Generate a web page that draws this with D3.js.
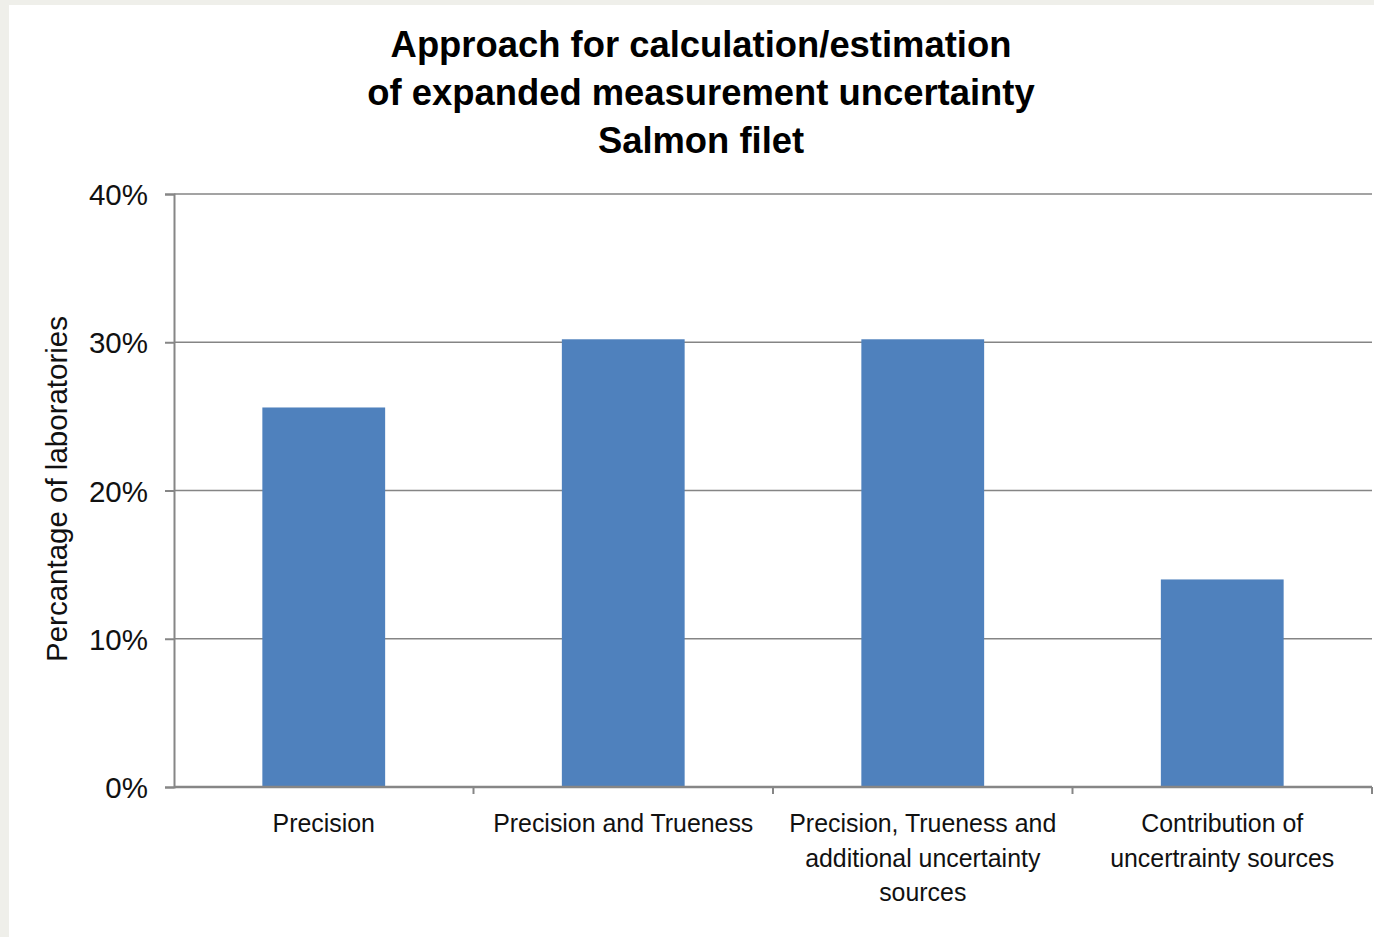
<!DOCTYPE html>
<html><head><meta charset="utf-8">
<script src="https://cdn.jsdelivr.net/npm/d3@7"></script>
<style>html,body{margin:0;padding:0;background:#efefea;}svg{display:block;}</style>
</head><body>
<svg id="chart" width="1374" height="937"></svg>
<script>
const titleLines = ["Approach for calculation/estimation", "of expanded measurement uncertainty", "Salmon filet"];
const categories = ["Precision", "Precision and Trueness", "Precision, Trueness and\nadditional uncertainty\nsources", "Contribution of\nuncertrainty sources"];
const values = [0.256, 0.302, 0.302, 0.140];
const yTicks = [0, 0.1, 0.2, 0.3, 0.4];
const yTitle = "Percantage of laboratories";

const svg = d3.select("#chart");
svg.append("rect").attr("x", 9).attr("y", 5).attr("width", 1365).attr("height", 932).attr("fill", "#fff");

const m = {left: 174, right: 1372, top: 194, bottom: 787};
const x = d3.scaleBand().domain(categories).range([m.left, m.right]).paddingInner(0.59).paddingOuter(0.295);
const xb = d3.scaleBand().domain(categories).range([m.left, m.right]);
const y = d3.scaleLinear().domain([0, 0.4]).range([m.bottom, m.top]);

// gridlines
svg.append("g").selectAll("line").data(yTicks.filter(d => d > 0)).join("line")
  .attr("x1", m.left).attr("x2", m.right)
  .attr("y1", d => y(d)).attr("y2", d => y(d))
  .attr("stroke", "#858585").attr("stroke-width", 1.6);

// bars
svg.append("g").selectAll("rect").data(values).join("rect")
  .attr("x", (d, i) => x(categories[i])).attr("width", x.bandwidth())
  .attr("y", d => y(d)).attr("height", d => y(0) - y(d))
  .attr("fill", "#4f81bd");

// y axis
const yAxis = d3.axisLeft(y).tickValues(yTicks).tickFormat(d3.format(".0%")).tickSize(9).tickPadding(17);
const gy = svg.append("g").attr("transform", `translate(${m.left},0)`).call(yAxis);
gy.select(".domain").attr("stroke", "#868686").attr("stroke-width", 2);
gy.selectAll(".tick line").attr("stroke", "#868686").attr("stroke-width", 2);
gy.selectAll(".tick text").attr("font-family", "Liberation Sans, Arial, sans-serif").attr("font-size", 29.5).attr("fill", "#111").attr("dy", "0.36em");

// x axis
const gx = svg.append("g").attr("transform", `translate(0,${m.bottom})`);
gx.append("line").attr("x1", m.left).attr("x2", m.right).attr("stroke", "#868686").attr("stroke-width", 2.5);
const bounds = categories.map(c => xb(c) + xb.bandwidth());
gx.selectAll("line.t").data(bounds).join("line").attr("class", "t")
  .attr("x1", d => d).attr("x2", d => d).attr("y1", 0).attr("y2", 7)
  .attr("stroke", "#868686").attr("stroke-width", 2);

const labels = svg.append("g").selectAll("text").data(categories).join("text")
  .attr("x", d => xb(d) + xb.bandwidth() / 2).attr("y", 832)
  .attr("text-anchor", "middle")
  .attr("font-family", "Liberation Sans, Arial, sans-serif").attr("font-size", 24.9).attr("fill", "#111");
labels.each(function(d) {
  const t = d3.select(this);
  d.split("\n").forEach((line, i) => {
    t.append("tspan").attr("x", xb(d) + xb.bandwidth() / 2).attr("dy", i === 0 ? 0 : 34.5).text(line);
  });
});

// y title
svg.append("text").attr("transform", "translate(67,489) rotate(-90)")
  .attr("text-anchor", "middle")
  .attr("font-family", "Liberation Sans, Arial, sans-serif").attr("font-size", 29.5).attr("fill", "#111")
  .text(yTitle);

// title
svg.append("g").selectAll("text").data(titleLines).join("text")
  .attr("x", 701).attr("y", (d, i) => 57 + i * 48)
  .attr("text-anchor", "middle")
  .attr("font-family", "Liberation Sans, Arial, sans-serif").attr("font-weight", "bold").attr("font-size", 36.4).attr("fill", "#000")
  .text(d => d);
</script>
</body></html>
